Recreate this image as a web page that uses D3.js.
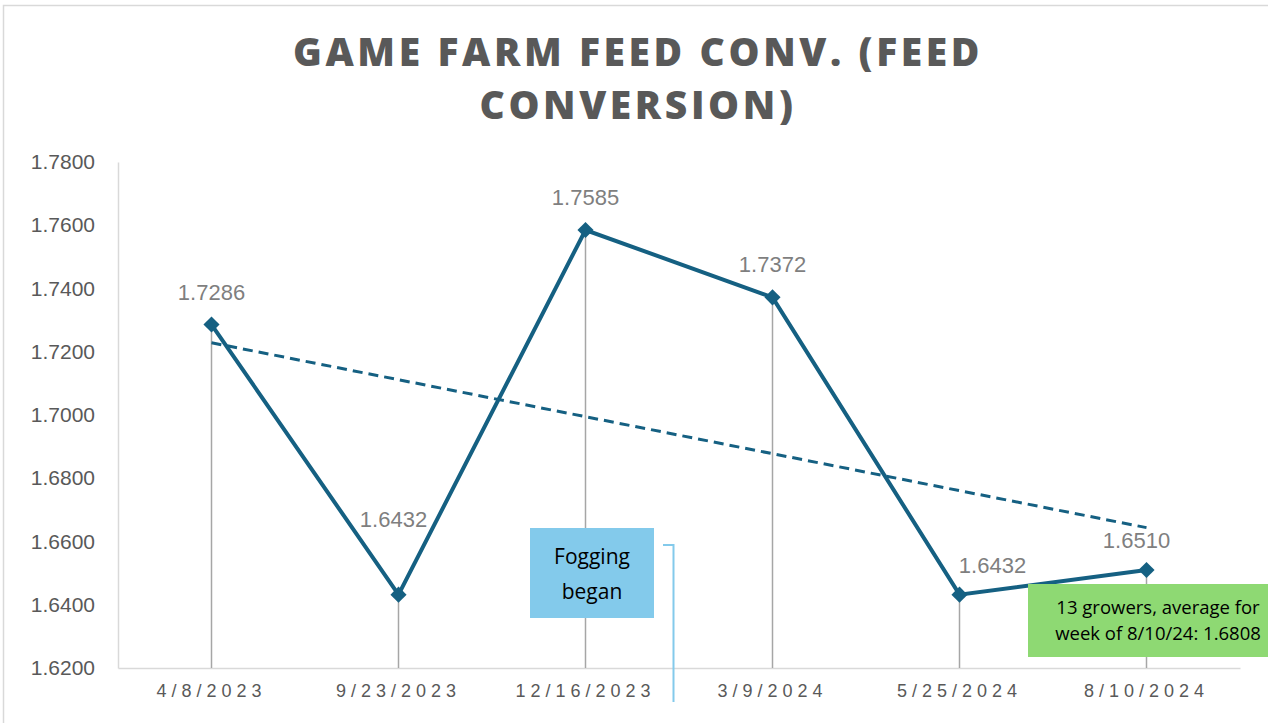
<!DOCTYPE html>
<html><head><meta charset="utf-8">
<script src="https://cdn.jsdelivr.net/npm/d3@7"></script>
<style>body{margin:0;background:#fff;}svg{display:block;}</style>
</head><body>
<svg id="c" width="1268" height="723"></svg>
<script>
const categories = ["4/8/2023","9/23/2023","12/16/2023","3/9/2024","5/25/2024","8/10/2024"];
const values = [1.7286, 1.6432, 1.7585, 1.7372, 1.6432, 1.6510];
const yTicks = [1.62,1.64,1.66,1.68,1.70,1.72,1.74,1.76,1.78];
const titleLines = ["GAME FARM FEED CONV. (FEED", "CONVERSION)"];
const fogText = ["Fogging", "began"];
const noteText = ["13 growers, average for", "week of 8/10/24: 1.6808"];
// manual label nudges (dx, dy) relative to default position above point
const labelNudge = [[0,0],[-5,-43],[0,0],[0,0],[33,3],[-10,3]];

const svg = d3.select("#c");
const M = {l:118, r:1240, t:162, b:668};
const col = "#156082";

svg.append("path").attr("d","M3.5,723V5.5H1268").attr("fill","none").attr("stroke","#d9d9d9").attr("stroke-width",1.5);

const x = d3.scaleBand().domain(categories).range([M.l, M.r]).padding(0);
const y = d3.scaleLinear().domain([1.62,1.78]).range([M.b, M.t]);
const cx = d => x(d) + x.bandwidth()/2;

// title
const t = svg.append("text").attr("text-anchor","middle").attr("fill","#595959")
  .style("font-family","'Open Sans', sans-serif").style("font-weight","800").style("font-size","39px").style("letter-spacing","3.6px");
titleLines.forEach((s,i)=> t.append("tspan").attr("x",638).attr("y",66+i*53).text(s));

// axes
const yAxis = svg.append("g").attr("transform",`translate(${M.l},0)`)
  .call(d3.axisLeft(y).tickValues(yTicks).tickFormat(d3.format(".4f")).tickSize(0).tickPadding(23));
yAxis.select(".domain").attr("stroke","#d9d9d9").attr("stroke-width",1.5);
yAxis.selectAll("text").attr("fill","#595959").style("font-family","'Liberation Sans', Arial, sans-serif").style("font-size","21px");

const xAxis = svg.append("g").attr("transform",`translate(0,${M.b})`)
  .call(d3.axisBottom(x).tickSize(0).tickPadding(16));
xAxis.select(".domain").attr("stroke","#d9d9d9").attr("stroke-width",1.5);
xAxis.selectAll("text").attr("fill","#595959").style("font-family","'Liberation Sans', Arial, sans-serif").style("font-size","18px").style("letter-spacing","5px");

// drop lines
svg.append("g").selectAll("line").data(categories).join("line")
  .attr("x1",d=>cx(d)).attr("x2",d=>cx(d)).attr("y1",(d,i)=>y(values[i])).attr("y2",M.b)
  .attr("stroke","#a6a6a6").attr("stroke-width",1.5);

// trendline (linear regression)
const n = values.length, xs = d3.range(1,n+1);
const mx = d3.mean(xs), my = d3.mean(values);
const slope = d3.sum(xs.map((v,i)=>(v-mx)*(values[i]-my))) / d3.sum(xs.map(v=>(v-mx)**2));
const icpt = my - slope*mx;
svg.append("line").attr("x1",cx(categories[0])).attr("x2",cx(categories[n-1]))
  .attr("y1",y(icpt+slope*1)).attr("y2",y(icpt+slope*n))
  .attr("stroke",col).attr("stroke-width",3).attr("stroke-dasharray","10,6");

// series line
svg.append("path").datum(values).attr("fill","none").attr("stroke",col).attr("stroke-width",4)
  .attr("d", d3.line().x((d,i)=>cx(categories[i])).y(d=>y(d)));
svg.append("g").selectAll("path").data(values).join("path")
  .attr("transform",(d,i)=>`translate(${cx(categories[i])},${y(d)}) rotate(45)`)
  .attr("d", d3.symbol().type(d3.symbolSquare).size(130)).attr("fill",col);

// data labels
svg.append("g").selectAll("text").data(values).join("text")
  .attr("x",(d,i)=>cx(categories[i])+labelNudge[i][0]).attr("y",(d,i)=>y(d)-25+labelNudge[i][1])
  .attr("text-anchor","middle").attr("fill","#7f7f7f")
  .style("font-family","'Liberation Sans', Arial, sans-serif").style("font-size","22px")
  .text(d=>d3.format(".4f")(d));

// fogging callout
svg.append("path").attr("d","M663,545H673.5V702").attr("fill","none").attr("stroke","#83CAEB").attr("stroke-width",2);
svg.append("rect").attr("x",530).attr("y",528).attr("width",124).attr("height",90).attr("fill","#83CAEB");
fogText.forEach((s,i)=> svg.append("text").attr("x",592).attr("y",564+i*35).attr("text-anchor","middle")
  .attr("fill","#000").style("font-family","'Open Sans', sans-serif").style("font-size","21px").text(s));

// note box
svg.append("rect").attr("x",1028).attr("y",584).attr("width",245).attr("height",73).attr("fill","#8ED973");
noteText.forEach((s,i)=> svg.append("text").attr("x",1158).attr("y",614+i*26).attr("text-anchor","middle")
  .attr("fill","#000").style("font-family","'Open Sans', sans-serif").style("font-size","18.5px").text(s));
</script>
</body></html>
